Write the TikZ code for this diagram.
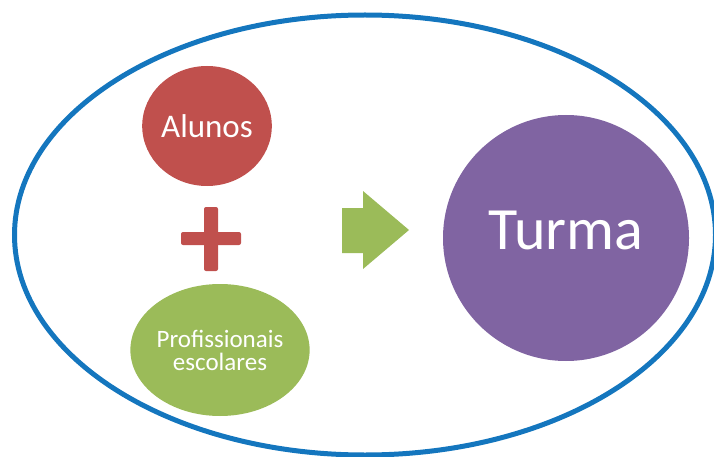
\documentclass[tikz,border=0pt]{standalone}
\usepackage{fontspec}
\setmainfont{Carlito}
\usetikzlibrary{shapes.geometric}
\definecolor{ored}{HTML}{C0504D}
\definecolor{ogreen}{HTML}{9BBB59}
\definecolor{opurple}{HTML}{8064A2}
\definecolor{oblue}{RGB}{20,118,190}
\tikzset{
  blob/.style={ellipse, inner sep=0pt, text=white, align=center},
  plusbar/.style={fill=ored, rounded corners=2pt},
}
\begin{document}
\begin{tikzpicture}[x=1pt,y=-1pt]
\useasboundingbox (0,0) rectangle (714,457);
\clip (0,0) rectangle (714,457);
\node[ellipse, draw=oblue, line width=5pt, inner sep=0pt,
      minimum width=701pt, minimum height=440pt] (outer) at (365,235) {};
\node[blob, fill=ored, minimum width=120pt, minimum height=120pt,
      font=\fontsize{33}{36}\selectfont] (alunos) at (207,126) {Alunos};
\fill[plusbar] (204,207) rectangle (218,271);
\fill[plusbar] (181,232) rectangle (241,245);
\node[blob, fill=ogreen, minimum width=172pt, minimum height=132pt,
      font=\fontsize{25}{23}\selectfont] (prof) at (220,350) {Profissionais\\escolares};
\fill[ogreen] (342,208) -- (363,208) -- (363,191) -- (409,230) -- (363,269) -- (363,253) -- (342,253) -- cycle;
\node[circle, fill=opurple, inner sep=0pt, minimum size=246pt] (turma) at (566,238) {};
\node[anchor=base, text=white, inner sep=0pt, font=\fontsize{60}{66}\selectfont] (turmatext) at (566,249) {Turma};
\end{tikzpicture}
\end{document}
